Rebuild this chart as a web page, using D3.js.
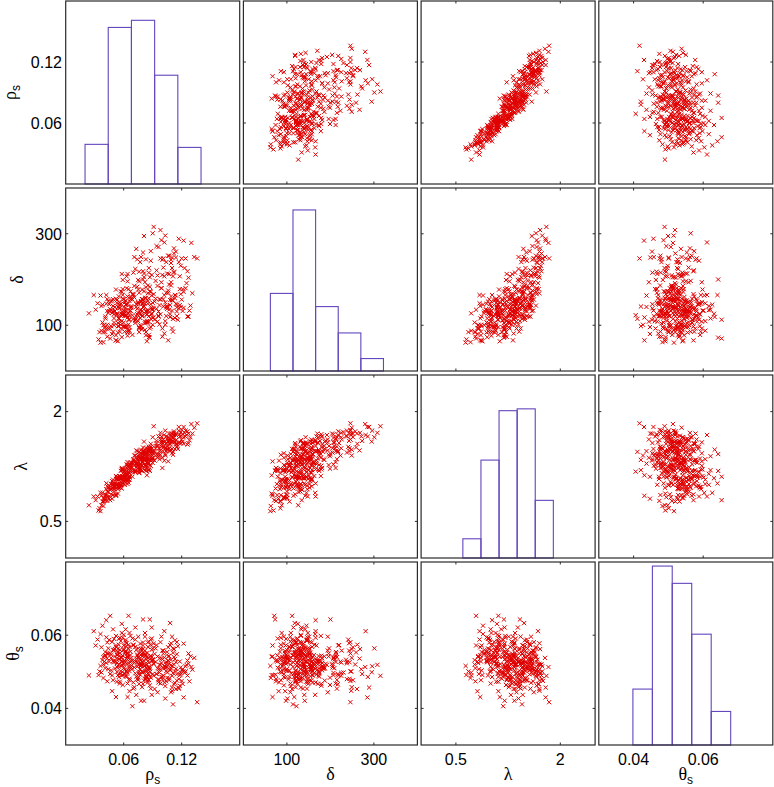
<!DOCTYPE html>
<html><head><meta charset="utf-8">
<script src="https://cdn.jsdelivr.net/npm/d3@7"></script>
<style>body{margin:0;background:#fff}</style>
</head><body><svg id="c" width="774" height="787"></svg>
<script>
// ---- sample values (one entry per sample) ----
const rhoS = [
0.024,0.041,0.036,0.043,0.031,0.039,0.044,0.038,0.042,0.035,
0.040,0.033,0.043,0.037,0.041,0.029,0.044,0.039,0.042,0.036,
0.043,0.038,0.041,0.034,0.044,0.040,0.042,0.037,0.043,0.039,
0.046,0.051,0.048,0.045,0.053,0.049,0.047,0.052,0.050,0.046,
0.054,0.049,0.056,0.047,0.052,0.055,0.050,0.048,0.057,0.053,
0.051,0.058,0.049,0.055,0.053,0.046,0.059,0.052,0.056,0.054,
0.057,0.053,0.060,0.055,0.050,0.058,0.054,0.061,0.056,0.052,
0.059,0.055,0.062,0.057,0.053,0.060,0.058,0.056,0.063,0.054,
0.061,0.057,0.058,0.064,0.060,0.055,0.062,0.059,0.063,0.058,
0.060,0.065,0.062,0.058,0.064,0.061,0.066,0.059,0.063,0.062,
0.064,0.061,0.067,0.063,0.060,0.065,0.062,0.066,0.064,0.061,
0.063,0.066,0.062,0.067,0.065,0.064,0.068,0.063,0.066,0.065,
0.067,0.064,0.066,0.068,0.065,0.067,0.063,0.068,0.066,0.067,
0.045,0.050,0.057,0.062,0.048,0.055,0.060,0.052,0.065,0.058,
0.047,0.053,0.059,0.061,0.051,0.056,0.064,0.049,0.067,0.054,
0.069,0.072,0.070,0.074,0.071,0.069,0.073,0.075,0.070,0.072,
0.073,0.071,0.076,0.070,0.074,0.077,0.072,0.075,0.069,0.076,
0.075,0.078,0.073,0.077,0.074,0.079,0.076,0.072,0.078,0.075,
0.077,0.080,0.076,0.079,0.081,0.075,0.078,0.080,0.077,0.079,
0.079,0.082,0.078,0.081,0.083,0.080,0.077,0.082,0.079,0.081,
0.081,0.084,0.080,0.083,0.085,0.082,0.079,0.084,0.081,0.083,
0.083,0.086,0.082,0.085,0.087,0.084,0.081,0.086,0.083,0.085,
0.085,0.088,0.084,0.087,0.089,0.086,0.083,0.088,0.085,0.087,
0.087,0.090,0.086,0.089,0.091,0.088,0.085,0.090,0.087,0.089,
0.089,0.091,0.088,0.090,0.092,0.086,0.091,0.089,0.090,0.088,
0.074,0.086,0.070,0.082,0.090,0.078,0.072,0.084,0.076,0.080,
0.083,0.071,0.091,0.077,0.087,0.073,0.085,0.079,0.075,0.081,
0.069,0.076,0.083,0.088,0.074,0.080,0.086,0.078,0.082,0.089,
0.093,0.096,0.094,0.098,0.095,0.092,0.097,0.099,0.094,0.096,
0.097,0.100,0.095,0.099,0.102,0.098,0.096,0.101,0.093,0.100,
0.101,0.104,0.099,0.103,0.100,0.105,0.102,0.098,0.104,0.101,
0.104,0.107,0.103,0.106,0.108,0.102,0.105,0.109,0.103,0.106,
0.107,0.110,0.106,0.109,0.111,0.105,0.108,0.112,0.107,0.110,
0.110,0.113,0.109,0.112,0.114,0.108,0.111,0.115,0.110,0.113,
0.112,0.115,0.111,0.114,0.116,0.113,0.109,0.115,0.112,0.114,
0.102,0.094,0.110,0.098,0.114,0.106,0.096,0.108,0.100,0.104,
0.099,0.111,0.095,0.107,0.115,0.103,0.097,0.109,0.101,0.105,
0.117,0.120,0.118,0.122,0.119,0.124,0.117,0.121,0.126,0.118,
0.119,0.123,0.127,0.120,0.125,0.118,0.129,0.122,0.131,0.121,
0.124,0.128,0.133,0.119,0.126,0.136,0.122,0.130,0.117,0.127];

const delta = [
126,85,165,101,134,63,127,145,93,85,
94,148,75,142,115,166,93,100,147,62,
157,106,119,69,152,101,166,88,131,85,
93,131,81,146,123,132,98,178,106,135,
140,86,137,133,67,163,115,154,101,124,
140,109,157,116,155,71,123,158,108,84,
121,155,97,138,124,173,105,126,150,78,
158,114,133,93,149,128,212,86,146,98,
98,146,74,163,132,141,96,199,121,129,
157,89,154,125,77,150,131,179,98,138,
146,86,132,181,106,102,145,96,196,121,
207,120,121,157,86,117,158,96,153,126,
132,212,112,139,112,162,121,142,88,174,
131,100,174,129,127,98,140,67,179,123,
152,126,166,97,131,145,84,142,138,65,
156,105,215,124,161,79,146,178,114,110,
120,186,94,166,136,238,115,127,168,85,
199,134,140,93,184,131,217,112,153,109,
116,149,96,178,141,148,123,218,126,157,
157,108,151,156,85,200,132,194,120,142,
174,106,140,183,134,104,147,123,213,131,
244,120,148,170,93,124,205,108,160,153,
131,262,109,174,124,225,130,146,106,184,
174,134,215,134,168,114,147,101,205,138,
210,138,241,116,152,159,117,165,149,96,
244,74,168,90,301,98,223,65,171,259,
78,249,315,100,73,267,187,92,151,295,
122,196,106,173,147,121,79,249,159,126,
158,130,220,156,186,112,157,194,136,119,
144,243,108,181,166,246,121,157,197,93,
246,139,181,109,210,142,281,124,171,141,
120,189,101,252,155,207,136,243,150,171,
212,132,176,163,114,213,144,268,134,155,
225,116,187,217,147,118,207,139,248,166,
257,145,154,248,112,159,236,120,215,165,
82,273,93,308,261,67,271,124,75,238,
286,86,209,252,130,296,102,194,226,140,
238,156,179,138,230,181,289,131,218,144,
140,225,119,246,192,207,143,285,170,179,
246,132,249,168,119,246,173,280,137,204];

const lambda = [
0.72,0.78,0.89,0.86,0.79,0.71,0.90,0.89,0.82,0.68,
0.81,0.84,0.78,0.85,0.85,0.84,0.83,0.82,0.94,0.64,
0.98,0.77,0.87,0.65,0.96,0.82,1.02,0.72,0.91,0.77,
0.83,1.01,0.81,0.99,1.00,1.01,0.87,1.12,0.94,0.93,
1.09,0.86,1.09,0.94,0.85,1.12,0.95,1.05,1.00,1.01,
1.02,1.01,1.07,1.02,1.07,0.79,1.11,1.08,1.00,0.94,
1.04,1.10,1.01,1.09,0.97,1.21,0.97,1.11,1.12,0.86,
1.20,1.00,1.15,0.96,1.08,1.09,1.23,0.97,1.18,0.97,
1.04,1.10,0.95,1.25,1.10,1.09,1.07,1.22,1.12,1.10,
1.17,1.07,1.17,1.09,1.01,1.20,1.16,1.21,1.08,1.13,
1.22,1.00,1.21,1.23,1.06,1.08,1.17,1.11,1.27,1.10,
1.28,1.12,1.12,1.27,1.03,1.13,1.30,1.05,1.23,1.17,
1.18,1.31,1.10,1.24,1.11,1.30,1.11,1.23,1.07,1.27,
0.95,0.91,1.19,1.10,0.96,0.96,1.14,0.87,1.26,1.07,
1.01,0.99,1.21,1.05,0.98,1.11,1.06,1.00,1.21,0.88,
1.27,1.19,1.35,1.26,1.31,1.11,1.28,1.37,1.19,1.17,
1.24,1.34,1.20,1.29,1.28,1.44,1.20,1.28,1.30,1.16,
1.39,1.28,1.29,1.20,1.35,1.31,1.45,1.18,1.35,1.23,
1.23,1.37,1.17,1.42,1.34,1.34,1.26,1.46,1.28,1.35,
1.39,1.26,1.36,1.36,1.22,1.42,1.29,1.47,1.26,1.35,
1.41,1.26,1.35,1.45,1.34,1.27,1.37,1.31,1.46,1.35,
1.50,1.34,1.35,1.46,1.27,1.35,1.44,1.30,1.42,1.39,
1.37,1.56,1.30,1.44,1.36,1.50,1.33,1.43,1.28,1.48,
1.46,1.37,1.52,1.39,1.46,1.33,1.42,1.30,1.50,1.41,
1.50,1.42,1.52,1.36,1.45,1.46,1.34,1.46,1.44,1.26,
1.46,1.20,1.33,1.20,1.65,1.20,1.40,1.13,1.36,1.51,
1.19,1.40,1.80,1.22,1.19,1.47,1.49,1.19,1.32,1.59,
1.18,1.41,1.25,1.48,1.30,1.31,1.21,1.48,1.41,1.34,
1.50,1.41,1.57,1.47,1.53,1.33,1.50,1.58,1.41,1.39,
1.46,1.60,1.37,1.55,1.53,1.62,1.42,1.51,1.53,1.37,
1.62,1.50,1.52,1.42,1.58,1.53,1.68,1.41,1.57,1.46,
1.46,1.60,1.40,1.65,1.56,1.58,1.49,1.70,1.50,1.58,
1.63,1.49,1.60,1.59,1.45,1.63,1.55,1.71,1.50,1.59,
1.65,1.49,1.59,1.68,1.56,1.48,1.64,1.55,1.70,1.59,
1.73,1.56,1.59,1.68,1.49,1.58,1.67,1.52,1.65,1.61,
1.33,1.60,1.43,1.71,1.70,1.32,1.66,1.46,1.23,1.66,
1.66,1.41,1.53,1.70,1.52,1.74,1.35,1.62,1.62,1.48,
1.74,1.62,1.66,1.56,1.72,1.66,1.79,1.59,1.73,1.58,
1.57,1.71,1.57,1.75,1.68,1.69,1.65,1.79,1.70,1.69,
1.74,1.61,1.78,1.66,1.55,1.84,1.65,1.83,1.57,1.70];

const thetaS = [
0.0490,0.0510,0.0603,0.0537,0.0572,0.0483,0.0549,0.0626,0.0524,0.0501,
0.0528,0.0588,0.0474,0.0567,0.0545,0.0611,0.0507,0.0540,0.0594,0.0516,
0.0580,0.0532,0.0554,0.0491,0.0564,0.0543,0.0641,0.0498,0.0551,0.0520,
0.0494,0.0542,0.0447,0.0587,0.0524,0.0559,0.0504,0.0598,0.0531,0.0550,
0.0563,0.0477,0.0551,0.0538,0.0431,0.0574,0.0526,0.0582,0.0502,0.0536,
0.0509,0.0606,0.0529,0.0486,0.0546,0.0653,0.0517,0.0568,0.0468,0.0555,
0.0540,0.0513,0.0572,0.0521,0.0590,0.0490,0.0553,0.0496,0.0560,0.0528,
0.0491,0.0514,0.0616,0.0539,0.0473,0.0562,0.0527,0.0593,0.0500,0.0547,
0.0506,0.0584,0.0530,0.0497,0.0601,0.0535,0.0557,0.0464,0.0578,0.0518,
0.0510,0.0541,0.0488,0.0631,0.0533,0.0554,0.0481,0.0544,0.0522,0.0570,
0.0550,0.0531,0.0598,0.0504,0.0559,0.0524,0.0587,0.0447,0.0542,0.0494,
0.0536,0.0502,0.0582,0.0526,0.0574,0.0431,0.0538,0.0551,0.0477,0.0563,
0.0555,0.0468,0.0568,0.0517,0.0653,0.0546,0.0486,0.0529,0.0606,0.0509,
0.0528,0.0560,0.0496,0.0553,0.0490,0.0590,0.0521,0.0572,0.0513,0.0540,
0.0547,0.0500,0.0593,0.0527,0.0562,0.0473,0.0539,0.0616,0.0514,0.0491,
0.0508,0.0568,0.0454,0.0547,0.0525,0.0591,0.0487,0.0520,0.0574,0.0496,
0.0560,0.0512,0.0534,0.0471,0.0544,0.0523,0.0621,0.0478,0.0531,0.0500,
0.0484,0.0532,0.0437,0.0577,0.0514,0.0549,0.0494,0.0588,0.0521,0.0540,
0.0553,0.0467,0.0541,0.0528,0.0421,0.0564,0.0516,0.0572,0.0492,0.0526,
0.0499,0.0596,0.0519,0.0476,0.0536,0.0643,0.0507,0.0558,0.0458,0.0545,
0.0530,0.0503,0.0562,0.0511,0.0580,0.0480,0.0543,0.0486,0.0550,0.0518,
0.0481,0.0504,0.0606,0.0529,0.0463,0.0552,0.0517,0.0583,0.0490,0.0537,
0.0496,0.0574,0.0520,0.0487,0.0591,0.0525,0.0547,0.0454,0.0568,0.0508,
0.0500,0.0531,0.0478,0.0621,0.0523,0.0544,0.0471,0.0534,0.0512,0.0560,
0.0540,0.0521,0.0588,0.0494,0.0549,0.0514,0.0577,0.0437,0.0532,0.0484,
0.0526,0.0492,0.0572,0.0516,0.0564,0.0421,0.0528,0.0541,0.0467,0.0553,
0.0545,0.0458,0.0489,0.0507,0.0643,0.0536,0.0476,0.0519,0.0596,0.0499,
0.0406,0.0550,0.0486,0.0543,0.0480,0.0580,0.0511,0.0562,0.0503,0.0530,
0.0527,0.0480,0.0573,0.0507,0.0542,0.0453,0.0519,0.0596,0.0494,0.0471,
0.0498,0.0558,0.0444,0.0537,0.0515,0.0581,0.0477,0.0510,0.0564,0.0486,
0.0550,0.0502,0.0524,0.0461,0.0534,0.0513,0.0611,0.0468,0.0521,0.0490,
0.0474,0.0522,0.0427,0.0567,0.0504,0.0539,0.0484,0.0578,0.0511,0.0530,
0.0543,0.0457,0.0531,0.0518,0.0411,0.0554,0.0506,0.0562,0.0482,0.0516,
0.0489,0.0586,0.0509,0.0466,0.0526,0.0633,0.0497,0.0548,0.0448,0.0535,
0.0520,0.0493,0.0552,0.0501,0.0570,0.0470,0.0533,0.0476,0.0540,0.0508,
0.0471,0.0494,0.0596,0.0519,0.0453,0.0542,0.0507,0.0573,0.0480,0.0527,
0.0486,0.0564,0.0510,0.0477,0.0581,0.0515,0.0537,0.0444,0.0558,0.0498,
0.0480,0.0505,0.0462,0.0577,0.0498,0.0515,0.0457,0.0507,0.0490,0.0528,
0.0512,0.0497,0.0550,0.0475,0.0519,0.0491,0.0542,0.0430,0.0506,0.0467,
0.0501,0.0474,0.0538,0.0493,0.0531,0.0417,0.0502,0.0513,0.0454,0.0522];

// ---- axis limits and ticks ----
const varSymbols = ["ρ", "δ", "λ", "θ"];
const varSubscripts = ["s", "", "", "s"];
const axisMin = [0, 0, 0, 0.03];
const axisMax = [0.18, 400, 2.5, 0.08];
const tickValues = [[0.06, 0.12], [100, 300], [0.5, 2], [0.04, 0.06]];
const tickLabels = [["0.06", "0.12"], ["100", "300"], ["0.5", "2"], ["0.04", "0.06"]];

// ---- histogram bins (diagonal) ----
const histEdges = [
  [0.020, 0.044, 0.068, 0.092, 0.116, 0.140],
  [62, 114, 166, 218, 270, 322],
  [0.60, 0.86, 1.12, 1.38, 1.64, 1.90],
  [0.0398, 0.0454, 0.0511, 0.0567, 0.0623, 0.0679]];
const histCounts = [
  [39, 154, 161, 107, 36],
  [106, 220, 88, 52, 17],
  [21, 107, 161, 163, 63],
  [55, 176, 159, 109, 33]];
const histMax = [180, 250, 200, 180];

// ---- layout ----
const colX0 = 65.7, colStep = 177.7, panelW = 174;
const rowY0 = 1, rowStep = 187, panelH = 183;
const ylabelX = [16, 23, 27, 19];
const RED = "#e00000", PURPLE = "#6446bd", FRAME = "#2b2b2b";
const svg = d3.select("#c");
const vars = [rhoS, delta, lambda, thetaS];
const N = rhoS.length;
const tickLen = 2.5, mr = 2.1;

const xs = vars.map((_, j) => d3.scaleLinear().domain([axisMin[j], axisMax[j]])
  .range([colX0 + j * colStep, colX0 + j * colStep + panelW]));
const ys = vars.map((_, i) => d3.scaleLinear().domain([axisMin[i], axisMax[i]])
  .range([rowY0 + i * rowStep + panelH, rowY0 + i * rowStep]));

for (let i = 0; i < 4; i++) {
  for (let j = 0; j < 4; j++) {
    const x = xs[j], y = ys[i];
    const [L, R] = x.range(), [B, T] = y.range();
    const g = svg.append("g");
    if (i !== j) {
      g.append("g").selectAll("path").data(d3.range(N)).join("path")
        .attr("d", k => {
          const px = x(vars[j][k]), py = y(vars[i][k]);
          return `M${px - mr},${py - mr}L${px + mr},${py + mr}M${px - mr},${py + mr}L${px + mr},${py - mr}`;
        })
        .attr("stroke", RED).attr("stroke-width", 1).attr("fill", "none");
      const tk = g.append("g").attr("stroke", FRAME).attr("stroke-width", 1);
      tickValues[j].forEach(t => {
        tk.append("line").attr("x1", x(t)).attr("x2", x(t)).attr("y1", B).attr("y2", B - tickLen);
        tk.append("line").attr("x1", x(t)).attr("x2", x(t)).attr("y1", T).attr("y2", T + tickLen);
      });
      tickValues[i].forEach(t => {
        tk.append("line").attr("y1", y(t)).attr("y2", y(t)).attr("x1", L).attr("x2", L + tickLen);
        tk.append("line").attr("y1", y(t)).attr("y2", y(t)).attr("x1", R).attr("x2", R - tickLen);
      });
    } else {
      const hy = d3.scaleLinear().domain([0, histMax[i]]).range([B, T]);
      const e = histEdges[i];
      g.append("g").selectAll("rect").data(histCounts[i]).join("rect")
        .attr("x", (c, k) => x(e[k])).attr("width", (c, k) => x(e[k + 1]) - x(e[k]))
        .attr("y", c => hy(c)).attr("height", c => B - hy(c))
        .attr("fill", "none").attr("stroke", PURPLE).attr("stroke-width", 1.1);
    }
    g.append("rect").attr("x", L).attr("y", T).attr("width", R - L).attr("height", B - T)
      .attr("fill", "none").attr("stroke", FRAME).attr("stroke-width", 1.2);
  }
}

// tick labels
const font = "'Liberation Sans', Arial, Helvetica, sans-serif";
for (let i = 0; i < 4; i++) {
  tickValues[i].forEach((t, k) => {
    svg.append("text").attr("x", 62).attr("y", ys[i](t)).attr("dy", "0.36em")
      .attr("text-anchor", "end").attr("font-family", font).attr("font-size", 16)
      .text(tickLabels[i][k]);
  });
}
for (let j = 0; j < 4; j++) {
  tickValues[j].forEach((t, k) => {
    svg.append("text").attr("x", xs[j](t)).attr("y", 765)
      .attr("text-anchor", "middle").attr("font-family", font).attr("font-size", 16)
      .text(tickLabels[j][k]);
  });
}

// axis labels
function label(sel, v) {
  sel.append("tspan").attr("font-family", "'Liberation Serif', 'Times New Roman', serif")
    .attr("font-size", 18).text(varSymbols[v]);
  if (varSubscripts[v]) sel.append("tspan").attr("font-family", font).attr("font-size", 12)
    .attr("dy", 4).text(varSubscripts[v]);
}
for (let j = 0; j < 4; j++) {
  const [L, R] = xs[j].range();
  svg.append("text").attr("x", (L + R) / 2).attr("y", 780).attr("text-anchor", "middle")
    .call(label, j);
}
for (let i = 0; i < 4; i++) {
  const [B, T] = ys[i].range();
  svg.append("text").attr("transform", `translate(${ylabelX[i]},${(B + T) / 2}) rotate(-90)`)
    .attr("text-anchor", "middle").call(label, i);
}
</script></body></html>
